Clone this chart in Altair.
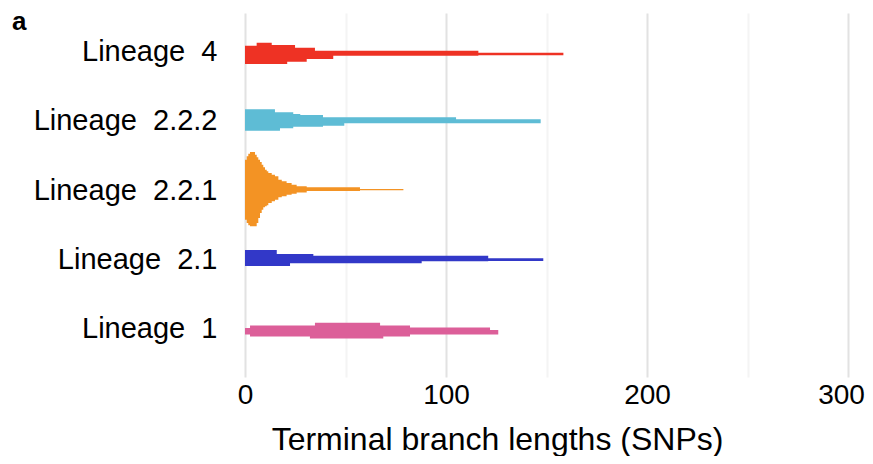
import altair as alt
import pandas as pd

# Lineages (top to bottom) and colours
lineages = ["Lineage 4", "Lineage 2.2.2", "Lineage 2.2.1", "Lineage 2.1", "Lineage 1"]
colors = ["#EE3224", "#5EBCD5", "#F39324", "#3238C8", "#DC5F99"]

# Step outline of each distribution: bin edges (SNPs) and the half-widths
# above / below the lineage line (in pixel-like density units) for each bin.
l4_edges = [0, 5.8, 13.3, 21.0, 24.9, 30.7, 34.8, 43.9, 116.1, 158.4]
l4_up = [6.1, 9.1, 6.8, 6.8, 4.1, 4.1, 1.1, 1.1, -0.9]
l4_down = [12.2, 12.2, 12.2, 9.9, 9.9, 7.2, 7.2, 3.9, 3.5]

l222_edges = [0, 14.9, 17.4, 24.0, 27.5, 38.8, 49.4, 105.0, 147.1]
l222_up = [11.6, 8.6, 8.6, 6.9, 5.9, 3.6, 3.6, 1.6]
l222_down = [9.8, 9.8, 7.4, 5.8, 5.8, 4.8, 2.4, 2.4]

l221_edges = [0, 0.85, 1.64, 2.49, 4.98, 5.82, 6.62, 7.46, 8.31, 9.10, 9.95, 10.8,
              11.6, 13.3, 14.9, 16.6, 18.3, 20.7, 23.2, 25.7, 30.7, 57.2, 78.8]
l221_up = [30.4, 33.8, 36.4, 38.1, 35.4, 32.8, 30.4, 28.1, 25.4, 22.8, 20.4, 18.8,
           17.1, 15.4, 13.8, 10.4, 8.8, 7.1, 5.4, 3.8, 2.8, 1.1]
l221_down = [29.6, 32.9, 35.2, 36.2, 36.2, 32.9, 27.9, 22.9, 19.6, 17.2, 16.2, 15.2,
             12.9, 11.2, 9.6, 7.2, 6.2, 4.6, 3.6, 2.4, 0.9, 0.2]

l21_edges = [0, 15.8, 22.4, 34.0, 87.9, 121.0, 148.4]
l21_up = [9.2, 5.2, 5.2, 3.5, 3.5, 0.9]
l21_down = [6.8, 6.8, 4.1, 4.1, 2.1, 1.8]

l1_edges = [0, 2.5, 32.3, 34.8, 67.2, 68.8, 82.1, 121.9, 126.0]
l1_up = [0.5, 3.0, 3.0, 5.6, 3.0, 3.0, 1.0, -1.7]
l1_down = [6.0, 8.0, 10.0, 10.0, 10.0, 8.0, 6.0, 6.0]

x_ticks = [0, 100, 200, 300]
x_grid = [0, 50, 100, 150, 200, 250, 300]

ROW = 69.14  # density units per lineage row

series = [
    (l4_edges, l4_up, l4_down),
    (l222_edges, l222_up, l222_down),
    (l221_edges, l221_up, l221_down),
    (l21_edges, l21_up, l21_down),
    (l1_edges, l1_up, l1_down),
]

rows = []
for idx, (name, (edges, up, down)) in enumerate(zip(lineages, series)):
    for k in range(len(edges)):
        j = min(k, len(up) - 1)
        rows.append({
            "lineage": name,
            "x": edges[k],
            "top": idx - up[j] / ROW,
            "bottom": idx + down[j] / ROW,
        })
df = pd.DataFrame(rows)

label_expr = "[" + ",".join("'" + n.replace(" ", "\u00a0\u00a0") + "'" for n in lineages) + "][datum.value]"
tick_test = "indexof([" + ",".join(str(v) for v in x_ticks) + "], datum.value) >= 0"

FONT = "Liberation Sans"

shapes = alt.Chart(df).mark_area(interpolate="step-after", strokeWidth=0).encode(
    x=alt.X("x:Q",
            scale=alt.Scale(domain=[0, 300], nice=False, zero=False),
            axis=alt.Axis(values=x_grid, labelExpr=tick_test + " ? datum.label : ''",
                          title="Terminal branch lengths (SNPs)", domain=False, ticks=False,
                          grid=True, gridWidth=2, labelFlush=False, labelOverlap=False,
                          gridColor={"condition": {"test": tick_test, "value": "#e2e2e2"},
                                     "value": "#f4f4f4"},
                          labelOffset={"condition": {"test": "datum.value === 300", "value": -7},
                                       "value": 0},
                          labelFontSize=28, labelFont=FONT, labelColor="#000",
                          labelPadding=4, titleFontSize=32, titleFont=FONT,
                          titleFontWeight="normal", titleColor="#000", titlePadding=15,
                          titleX=252, titleAnchor="middle", titleAlign="center")),
    y=alt.Y("top:Q",
            scale=alt.Scale(domain=[-0.561, 4.703], reverse=True, nice=False, zero=False),
            axis=alt.Axis(values=[0, 1, 2, 3, 4], labelExpr=label_expr, title=None,
                          domain=False, ticks=False, grid=False, labelLimit=0,
                          labelFontSize=29, labelFont=FONT, labelColor="#000",
                          labelPadding=28, labelBaseline="middle")),
    y2="bottom:Q",
    color=alt.Color("lineage:N", scale=alt.Scale(domain=lineages, range=colors), legend=None),
    detail="lineage:N",
)

panel_label = alt.Chart(pd.DataFrame({"t": ["a"]})).mark_text(
    align="left", baseline="middle", fontSize=26, fontWeight="bold", font=FONT, color="#000"
).encode(x=alt.value(-233), y=alt.value(9), text="t:N")

chart = alt.layer(shapes, panel_label).properties(
    width=603, height=364,
    autosize=alt.AutoSizeParams(type="none"),
    padding={"left": 237, "top": 5, "right": 17, "bottom": 79},
).configure_view(stroke=None)

chart.save("out.html", embed_options={"renderer": "svg", "actions": False})
